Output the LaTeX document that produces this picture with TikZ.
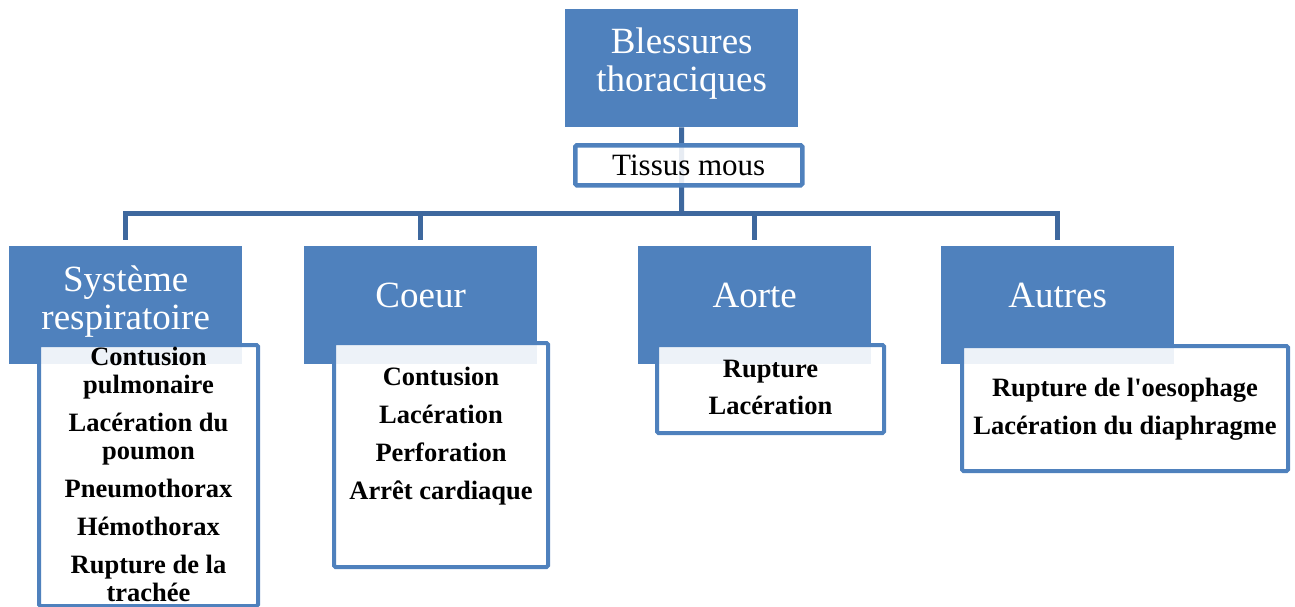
\documentclass[tikz,border=0pt]{standalone}
\usepackage{fontspec}
\setmainfont{Liberation Serif}
\usetikzlibrary{calc}
\definecolor{hdr}{RGB}{79,129,189}
\definecolor{conncol}{RGB}{62,104,158}
\begin{document}
\begin{tikzpicture}[x=1pt,y=-1pt,
  hdrbox/.style={fill=hdr, draw=none, inner sep=0pt, anchor=north west, minimum width=233pt, minimum height=118pt},
  hdrtext/.style={text=white, font=\fontsize{37}{38}\selectfont, align=center, inner sep=0pt, anchor=north},
  detbox/.style={draw=hdr, line width=4pt, fill=white, fill opacity=0.9, text opacity=1, rounded corners=1.5pt, inner sep=0pt, anchor=north west},
  dettext/.style={font=\bfseries\fontsize{26.5}{28}\selectfont, align=center, inner sep=0pt, anchor=north},
  connline/.style={draw=conncol, line width=5pt},
]
\useasboundingbox (0,0) rectangle (1295,607);

% root
\node[hdrbox] (top) at (565,9) {};
\node[hdrtext] (toptext) at ($(top.north)+(0,19)$) {Blessures\\thoraciques};

% children headers
\node[hdrbox] (sys) at (9,246) {};
\node[hdrbox] (coeur) at (304,246) {};
\node[hdrbox] (aorte) at (638,246) {};
\node[hdrbox] (autres) at (941,246) {};

% connectors
\coordinate (bar) at (681.5,213.5);
\draw[connline] (top.south) -- (bar);
\draw[connline, shorten >=6pt] (bar) -| (sys.north);
\draw[connline, shorten >=6pt] (bar) -| (coeur.north);
\draw[connline, shorten >=6pt] (bar) -| (aorte.north);
\draw[connline, shorten >=6pt] (bar) -| (autres.north);

% Tissus mous
\node[detbox, line width=4.5pt, fill opacity=0.88, minimum width=227pt, minimum height=40pt,
      font=\fontsize{31}{33}\selectfont] (tissus) at (573,143) {Tissus mous};

% header texts
\node[hdrtext] (systext) at ($(sys.north)+(0,20)$) {Système\\respiratoire};
\node[hdrtext] (coeurtext) at ($(coeur.north)+(0,36.5)$) {Coeur};
\node[hdrtext] (aortetext) at ($(aorte.north)+(0,36.5)$) {Aorte};
\node[hdrtext] (autrestext) at ($(autres.north)+(0,36.5)$) {Autres};

% detail boxes
\node[detbox, minimum width=219pt, minimum height=261pt] (sysd) at (37,343) {};
\node[detbox, minimum width=214pt, minimum height=224pt] (coeurd) at (332,341) {};
\node[detbox, minimum width=227pt, minimum height=88pt] (aorted) at (655,343) {};
\node[detbox, minimum width=326pt, minimum height=125pt] (autresd) at (960,344) {};

% detail texts
\node[dettext] (sysdt) at ($(sysd.north)+(0,3.6)$)
  {Contusion\\pulmonaire\\[10pt]Lacération du\\poumon\\[10pt]Pneumothorax\\[10pt]Hémothorax\\[10pt]Rupture de la\\trachée};
\node[dettext] (coeurdt) at ($(coeurd.north)+(0,25.6)$)
  {Contusion\\[10pt]Lacération\\[10pt]Perforation\\[10pt]Arrêt cardiaque};
\node[dettext] (aortedt) at ($(aorted.north)+(0,17)$)
  {Rupture\\[9pt]Lacération};
\node[dettext] (autresdt) at ($(autresd.north)+(0,34)$)
  {Rupture de l\textquotesingle oesophage\\[10pt]Lacération du diaphragme};
\end{tikzpicture}
\end{document}
